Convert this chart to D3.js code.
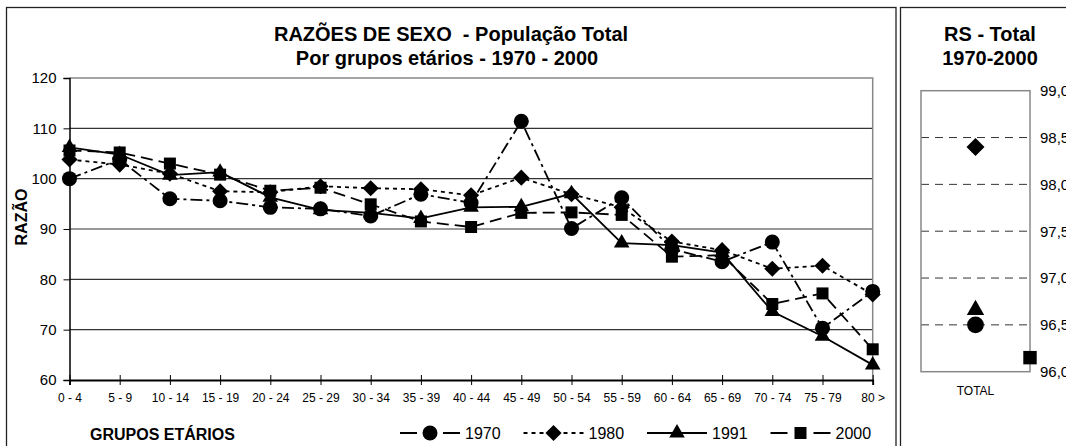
<!DOCTYPE html>
<html>
<head>
<meta charset="utf-8">
<script src="https://cdn.jsdelivr.net/npm/d3@7"></script>
<style>
  body { margin: 0; background: #fff; }
  svg { display: block; }
  text { font-family: 'Liberation Sans', Arial, sans-serif; fill: #000; }
</style>
</head>
<body>
<div id="chart"></div>
<script>
// age groups on the x axis
const ageGroups = ['0 - 4', '5 - 9', '10 - 14', '15 - 19', '20 - 24', '25 - 29', '30 - 34', '35 - 39',
  '40 - 44', '45 - 49', '50 - 54', '55 - 59', '60 - 64', '65 - 69', '70 - 74', '75 - 79', '80 >']

// sex ratio by age group
const rs1970 = [100.0, 103.8, 96.0, 95.6, 94.3, 94.0, 92.6, 96.9, 95.2, 111.4, 90.1, 96.2, 86.0, 83.5, 87.4, 70.3, 77.6]
const rs1980 = [103.8, 102.8, 101.0, 97.5, 97.3, 98.5, 98.1, 97.9, 96.7, 100.2, 96.9, 94.3, 87.5, 85.8, 82.1, 82.7, 77.0]
const rs1991 = [106.2, 104.8, 100.7, 101.3, 96.3, 93.8, 93.2, 92.1, 94.3, 94.4, 97.0, 87.2, 86.8, 85.3, 73.6, 68.7, 63.0]
const rs2000 = [105.6, 105.2, 103.0, 100.8, 97.6, 98.2, 94.9, 91.5, 90.4, 93.2, 93.3, 92.8, 84.5, 84.8, 75.1, 77.2, 66.1]

// total sex ratio per census year (small panel)
const years = ['1970', '1980', '1991', '2000']
const totalRS = [96.5, 98.4, 96.66, 96.15]
// the 2000 point sits on the panel edge in the original
const totalCat = ['TOTAL', 'TOTAL', 'TOTAL', 'edge']

const yTicks = [60, 70, 80, 90, 100, 110, 120]
const totalTicks = [96.0, 96.5, 97.0, 97.5, 98.0, 98.5, 99.0]

const width = 1066
const height = 446
const font = "'Liberation Sans', Arial, sans-serif"

const series = [
  { name: years[0], values: rs1970, symbol: 'circle', dash: '12,4,3,4', legendDash: '17,26,17' },
  { name: years[1], values: rs1980, symbol: 'diamond', dash: '4,4', legendDash: '4,4' },
  { name: years[2], values: rs1991, symbol: 'triangle', dash: null, legendDash: null },
  { name: years[3], values: rs2000, symbol: 'square', dash: '12,6', legendDash: '17,26,17' }
]

const svg = d3
  .select('#chart')
  .append('svg')
  .attr('width', width)
  .attr('height', height)

// marker path generator
function marker (type, big) {
  const k = big ? 1.25 : 1
  if (type === 'circle') return d3.symbol().type(d3.symbolCircle).size(177 * k)()
  if (type === 'diamond') return d3.symbol().type(d3.symbolSquare).size(130 * k)()
  if (type === 'triangle') return d3.symbol().type(d3.symbolTriangle).size(105 * k)()
  return d3.symbol().type(d3.symbolSquare).size(144 * k)()
}
function markerRotate (type) {
  return type === 'diamond' ? ' rotate(45)' : ''
}

// panel frames
svg.append('rect')
  .attr('x', 6.5).attr('y', 7.5)
  .attr('width', 889.5).attr('height', 460)
  .attr('fill', 'none').attr('stroke', '#222').attr('stroke-width', 1.3)
svg.append('rect')
  .attr('x', 900.5).attr('y', 7.5)
  .attr('width', 300).attr('height', 460)
  .attr('fill', 'none').attr('stroke', '#222').attr('stroke-width', 1.3)

/* ---------- main chart ---------- */

const plot = { left: 69.5, right: 872.7, top: 78, bottom: 380 }

const xPositionScale = d3
  .scalePoint()
  .domain(ageGroups)
  .range([plot.left, plot.right])

const yPositionScale = d3
  .scaleLinear()
  .domain([60, 120])
  .range([plot.bottom, plot.top])

// titles
svg.append('text')
  .attr('x', 451).attr('y', 41)
  .attr('text-anchor', 'middle')
  .attr('font-size', 20).attr('font-weight', 'bold')
  .style('white-space', 'pre')
  .text('RAZÕES DE SEXO  - População Total')
svg.append('text')
  .attr('x', 447).attr('y', 65)
  .attr('text-anchor', 'middle')
  .attr('font-size', 20).attr('font-weight', 'bold')
  .text('Por grupos etários - 1970 - 2000')

// grid lines
svg.append('g')
  .selectAll('line')
  .data(yTicks.filter(d => d > 60 && d < 120))
  .enter().append('line')
  .attr('x1', plot.left).attr('x2', plot.right)
  .attr('y1', d => yPositionScale(d)).attr('y2', d => yPositionScale(d))
  .attr('stroke', '#333').attr('stroke-width', 1.2)

// plot area border (top / right)
svg.append('path')
  .attr('d', `M${plot.left},${plot.top}H${plot.right}V${plot.bottom}`)
  .attr('fill', 'none').attr('stroke', '#888').attr('stroke-width', 1.5)

// axes
const yAxis = d3.axisLeft(yPositionScale).tickValues(yTicks).tickSize(6).tickPadding(7)
svg.append('g')
  .attr('class', 'axis y-axis')
  .attr('transform', `translate(${plot.left},0)`)
  .call(yAxis)
  .call(g => g.select('.domain').attr('stroke', '#000').attr('stroke-width', 1.5))
  .call(g => g.selectAll('.tick line').attr('stroke', '#000'))
  .call(g => g.selectAll('text').attr('font-family', font).attr('font-size', 15).attr('fill', '#000'))

const xAxis = d3.axisBottom(xPositionScale).tickSize(5).tickPadding(3)
svg.append('g')
  .attr('class', 'axis x-axis')
  .attr('transform', `translate(0,${plot.bottom})`)
  .call(xAxis)
  .call(g => g.select('.domain').attr('stroke', '#000').attr('stroke-width', 1.8))
  .call(g => g.selectAll('.tick line').attr('y1', -5).attr('stroke', '#000'))
  .call(g => g.selectAll('text').attr('y', 13).attr('font-family', font).attr('font-size', 12).attr('fill', '#000'))

// axis titles
svg.append('text')
  .attr('transform', 'translate(27,217) rotate(-90)')
  .attr('text-anchor', 'middle')
  .attr('font-size', 16).attr('font-weight', 'bold')
  .text('RAZÃO')

svg.append('text')
  .attr('x', 90).attr('y', 440)
  .attr('font-size', 16).attr('font-weight', 'bold')
  .text('GRUPOS ETÁRIOS')

// lines
const line = d3.line()
  .x((d, i) => xPositionScale(ageGroups[i]))
  .y(d => yPositionScale(d))

svg.append('g')
  .selectAll('path')
  .data(series)
  .enter().append('path')
  .attr('d', d => line(d.values))
  .attr('fill', 'none')
  .attr('stroke', '#000')
  .attr('stroke-width', 1.8)
  .attr('stroke-dasharray', d => d.dash)

// markers
series.forEach(s => {
  svg.append('g')
    .selectAll('path')
    .data(s.values)
    .enter().append('path')
    .attr('d', marker(s.symbol))
    .attr('transform', (d, i) => `translate(${xPositionScale(ageGroups[i])},${yPositionScale(d)})` + markerRotate(s.symbol))
    .attr('fill', '#000')
})

// legend
const legend = svg.append('g')
  .selectAll('g')
  .data(series)
  .enter().append('g')
  .attr('transform', (d, i) => `translate(${400 + i * 123.5},433)`)

legend.append('line')
  .attr('x1', 0).attr('x2', 60)
  .attr('stroke', '#000').attr('stroke-width', 1.8)
  .attr('stroke-dasharray', d => d.legendDash)
legend.append('path')
  .attr('d', d => marker(d.symbol))
  .attr('transform', d => 'translate(30,0)' + markerRotate(d.symbol))
  .attr('fill', '#000')
legend.append('text')
  .attr('x', 65).attr('y', 6)
  .attr('font-size', 16)
  .text(d => d.name)

/* ---------- total panel ---------- */

const box = { left: 921, right: 1030, top: 90.7, bottom: 371.7 }

const xTotal = d3.scalePoint()
  .domain(['', 'TOTAL', 'edge'])
  .range([box.left, box.right])

const yTotal = d3.scaleLinear()
  .domain([96, 99])
  .range([box.bottom, box.top])

const comma = d3.formatLocale({ decimal: ',', thousands: '.', grouping: [3], currency: ['', ''] }).format('.1f')

svg.append('text')
  .attr('x', 990).attr('y', 41)
  .attr('text-anchor', 'middle')
  .attr('font-size', 20).attr('font-weight', 'bold')
  .text('RS - Total')
svg.append('text')
  .attr('x', 990).attr('y', 65)
  .attr('text-anchor', 'middle')
  .attr('font-size', 20).attr('font-weight', 'bold')
  .text('1970-2000')

// dashed grid
svg.append('g')
  .selectAll('line')
  .data(totalTicks.filter(d => d > 96 && d < 99))
  .enter().append('line')
  .attr('x1', box.left).attr('x2', box.right)
  .attr('y1', d => yTotal(d)).attr('y2', d => yTotal(d))
  .attr('stroke', '#333').attr('stroke-width', 1)
  .attr('stroke-dasharray', '8,6')

svg.append('rect')
  .attr('x', box.left).attr('y', box.top)
  .attr('width', box.right - box.left).attr('height', box.bottom - box.top)
  .attr('fill', 'none').attr('stroke', '#888').attr('stroke-width', 1.5)

const yAxisTotal = d3.axisRight(yTotal).tickValues(totalTicks).tickSize(0).tickPadding(10).tickFormat(comma)
svg.append('g')
  .attr('transform', `translate(${box.right},0)`)
  .call(yAxisTotal)
  .call(g => g.select('.domain').remove())
  .call(g => g.selectAll('text').attr('font-family', font).attr('font-size', 15).attr('fill', '#000'))

svg.append('text')
  .attr('x', xTotal('TOTAL')).attr('y', 395)
  .attr('text-anchor', 'middle')
  .attr('font-size', 12)
  .text('TOTAL')

svg.append('g')
  .selectAll('path')
  .data(totalRS)
  .enter().append('path')
  .attr('d', (d, i) => marker(series[i].symbol, true))
  .attr('transform', (d, i) => `translate(${xTotal(totalCat[i])},${yTotal(d)})` + markerRotate(series[i].symbol))
  .attr('fill', '#000')
</script>
</body>
</html>
